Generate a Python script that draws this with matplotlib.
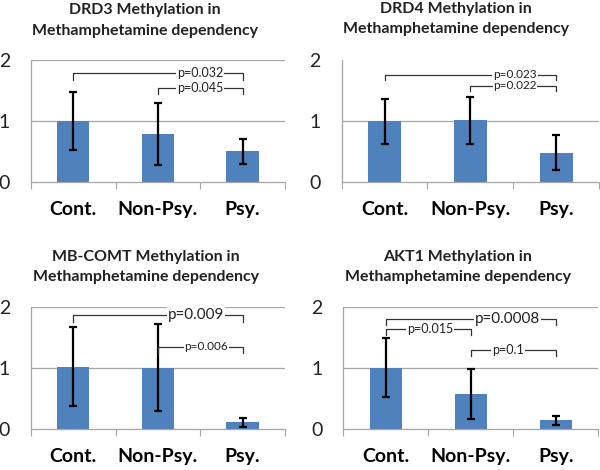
import matplotlib
matplotlib.use("Agg")
import matplotlib.pyplot as plt

plt.rcParams["font.family"] = ["Lato", "DejaVu Sans"]

CATEGORIES = ["Cont.", "Non-Psy.", "Psy."]
GENES = ["DRD3", "DRD4", "MB-COMT", "AKT1"]

# mean relative methylation per group
DRD3_MEAN = [1.00, 0.78, 0.50]
DRD3_LOW = [0.53, 0.27, 0.30]
DRD3_HIGH = [1.47, 1.30, 0.71]

DRD4_MEAN = [1.00, 1.02, 0.48]
DRD4_LOW = [0.62, 0.62, 0.19]
DRD4_HIGH = [1.37, 1.40, 0.77]

COMT_MEAN = [1.02, 1.00, 0.11]
COMT_LOW = [0.38, 0.30, 0.04]
COMT_HIGH = [1.67, 1.72, 0.18]

AKT1_MEAN = [1.00, 0.57, 0.15]
AKT1_LOW = [0.52, 0.17, 0.07]
AKT1_HIGH = [1.49, 0.99, 0.21]

# p-value labels: (from group, to group, label)
DRD3_P = [(0, 2, "p=0.032"), (1, 2, "p=0.045")]
DRD4_P = [(0, 2, "p=0.023"), (1, 2, "p=0.022")]
COMT_P = [(0, 2, "p=0.009"), (1, 2, "p=0.006")]
AKT1_P = [(0, 2, "p=0.0008"), (0, 1, "p=0.015"), (1, 2, "p=0.1")]

# bracket heights / text spots per panel
BRACKET_STYLE = {
    "DRD3": [(1.79, 1.68, 1.50, 9), (1.54, 1.45, 1.50, 9)],
    "DRD4": [(1.76, 1.68, 1.52, 8.5), (1.58, 1.50, 1.52, 8.5)],
    "MB-COMT": [(1.87, 1.76, 1.45, 11), (1.35, 1.24, 1.57, 8.5)],
    "AKT1": [(1.81, 1.71, 1.43, 11), (1.64, 1.54, 0.52, 9), (1.30, 1.20, 1.44, 9)],
}

BAR_COLOR = "#4F81BD"
GRID_COLOR = "#A6A6A6"

panels = [
    ("DRD3", DRD3_MEAN, DRD3_LOW, DRD3_HIGH, DRD3_P, [0.0517, 0.613, 0.423, 0.259], 145 / 600, [1 - 10 / 470, 1 - 31 / 470], True),
    ("DRD4", DRD4_MEAN, DRD4_LOW, DRD4_HIGH, DRD4_P, [0.5695, 0.613, 0.429, 0.259], 456 / 600, [1 - 9 / 470, 1 - 29 / 470], False),
    ("MB-COMT", COMT_MEAN, COMT_LOW, COMT_HIGH, COMT_P, [0.0517, 0.087, 0.423, 0.260], 146 / 600, [1 - 257 / 470, 1 - 277 / 470], True),
    ("AKT1", AKT1_MEAN, AKT1_LOW, AKT1_HIGH, AKT1_P, [0.572, 0.087, 0.425, 0.260], 458 / 600, [1 - 257 / 470, 1 - 277 / 470], True),
]

fig = plt.figure(figsize=(6, 4.7), dpi=100)

for gene, mean, low, high, pvals, rect, tx, tys, top_grid in panels:
    ax = fig.add_axes(rect)
    xs = range(len(CATEGORIES))
    yerr = [[m - l for m, l in zip(mean, low)], [h - m for m, h in zip(mean, high)]]
    ax.bar(xs, mean, width=0.38, color=BAR_COLOR, zorder=2)
    ax.errorbar(xs, mean, yerr=yerr, fmt="none", ecolor="black", elinewidth=1.6,
                capsize=3, capthick=1.6, zorder=3)

    ax.set_xlim(-0.5, 2.5)
    ax.set_ylim(0, 2)
    ax.set_yticks([0, 1, 2])
    ax.set_yticklabels(["0", "1", "2"], fontsize=14)
    grid_levels = [1, 2] if top_grid else [1]
    for g in grid_levels:
        ax.axhline(g, color=GRID_COLOR, lw=0.9, zorder=1)
    ax.tick_params(axis="y", length=0, pad=15, labelcolor="#222222")

    ax.set_xticks([-0.5, 0.5, 1.5, 2.5])
    ax.set_xticklabels([])
    ax.tick_params(axis="x", length=5, color=GRID_COLOR, direction="out")
    for i, c in enumerate(CATEGORIES):
        ax.text(i, -0.45, c, ha="center", va="center", fontsize=14,
                fontweight="bold", transform=ax.transData, clip_on=False)

    for side in ["top", "right"]:
        ax.spines[side].set_visible(False)
    for side in ["left", "bottom"]:
        ax.spines[side].set_color(GRID_COLOR)
        ax.spines[side].set_linewidth(0.9)

    n = len(pvals)
    for k, ((a, b, label), (yb, yt, xt, fs)) in enumerate(zip(pvals, BRACKET_STYLE[gene])):
        ax.plot([a, a, b, b], [yt, yb, yb, yt], color="#333333", lw=0.9, zorder=4)
        ax.text(xt, yb, label, ha="center", va="center", fontsize=fs, color="#222222",
                zorder=5 + n - k, bbox=dict(facecolor="white", edgecolor="none", pad=0.5))

    fig.text(tx, tys[0], f"{gene} Methylation in", ha="center", va="center",
             fontsize=11.5, fontweight="bold", color="#222222")
    fig.text(tx, tys[1], "Methamphetamine dependency", ha="center", va="center",
             fontsize=11.5, fontweight="bold", color="#222222")

fig.savefig("out.png", dpi=100)
